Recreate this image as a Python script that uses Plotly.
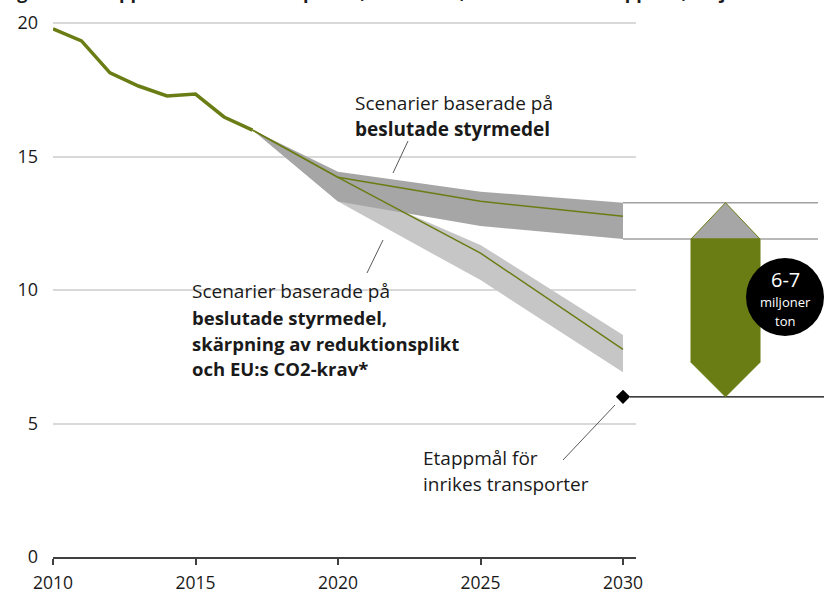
import plotly.graph_objects as go

# historic emissions, million tonnes
hist_years = [2010, 2011, 2012, 2013, 2014, 2015, 2016, 2017]
hist_values = [19.78, 19.33, 18.13, 17.64, 17.27, 17.34, 16.48, 15.99]

# scenarios
scen_years = [2017, 2020, 2025, 2030]
base_mid = [15.99, 14.22, 13.32, 12.76]
base_high = [15.99, 14.43, 13.68, 13.27]
base_low = [15.99, 13.31, 12.40, 11.91]
sharp_mid = [15.99, 14.22, 11.38, 7.78]
sharp_high = [15.99, 14.00, 11.69, 8.31]
sharp_low = [15.99, 13.31, 10.37, 6.92]

target_year = 2030
target_value = 6.0

x_ticks = [2010, 2015, 2020, 2025, 2030]
y_ticks = [0, 5, 10, 15, 20]

OLIVE = "#6a7d15"
DARK = "#a6a6a6"
LIGHT = "#c6c6c6"
FONT = "Open Sans"

W, H = 824, 595
L, R, T, B = 53, 188, 15, 38
plot_w, plot_h = W - L - R, H - T - B
x_range = [2010, 2010 + plot_w / 28.5]
y_range = [0, plot_h / 26.7]


def xp(px):
    return (px - L) / plot_w


def yd(py):
    return (H - B - py) / plot_h * y_range[1]


def year_to_paper(year):
    return (year - x_range[0]) / (x_range[1] - x_range[0])


fig = go.Figure()

fig.add_trace(go.Scatter(
    x=scen_years + scen_years[::-1], y=sharp_high + sharp_low[::-1],
    fill="toself", fillcolor=LIGHT, mode="lines", line=dict(width=0),
    hoverinfo="skip", showlegend=False))
fig.add_trace(go.Scatter(
    x=scen_years + scen_years[::-1], y=base_high + base_low[::-1],
    fill="toself", fillcolor=DARK, mode="lines", line=dict(width=0),
    hoverinfo="skip", showlegend=False))
fig.add_trace(go.Scatter(x=scen_years, y=base_mid, mode="lines",
                         line=dict(color=OLIVE, width=1.5), showlegend=False))
fig.add_trace(go.Scatter(x=scen_years, y=sharp_mid, mode="lines",
                         line=dict(color=OLIVE, width=1.5), showlegend=False))
fig.add_trace(go.Scatter(x=hist_years, y=hist_values, mode="lines",
                         line=dict(color=OLIVE, width=3.5), showlegend=False))
fig.add_trace(go.Scatter(x=[target_year], y=[target_value], mode="markers",
                         marker=dict(symbol="diamond", size=11, color="black"),
                         showlegend=False, cliponaxis=False))

shapes = []
x2030 = year_to_paper(2030)
for yv in (base_high[-1], base_low[-1]):
    shapes.append(dict(type="line", xref="paper", yref="y", x0=x2030, x1=xp(818),
                       y0=yv, y1=yv, line=dict(color="#a0a0a0", width=1.5)))
shapes.append(dict(type="line", xref="paper", yref="y", x0=xp(630), x1=xp(824),
                   y0=target_value, y1=target_value, line=dict(color="black", width=1.2)))

left, right, mid = xp(691), xp(760), xp(725.5)
tip = 34.5 / plot_h * y_range[1]
hi, lo = base_high[-1], base_low[-1]
shapes.append(dict(type="path", xref="paper", yref="y",
                   path=f"M{left},{lo} L{mid},{hi} L{right},{lo} Z",
                   fillcolor=DARK, line=dict(color=OLIVE, width=1)))
shapes.append(dict(type="path", xref="paper", yref="y",
                   path=(f"M{left},{lo} L{right},{lo} L{right},{target_value + tip} "
                         f"L{mid},{target_value} L{left},{target_value + tip} Z"),
                   fillcolor=OLIVE, line=dict(color=OLIVE, width=1)))
shapes.append(dict(type="circle", xref="paper", yref="y", xsizemode="pixel", ysizemode="pixel",
                   xanchor=xp(785), yanchor=yd(297), x0=-39, x1=39, y0=-39, y1=39,
                   fillcolor="black", line=dict(color="black", width=0)))

# leader lines
for (x0, y0, x1, y1) in [(393, 173, 408, 141), (367, 273, 383, 240), (563, 460, 615, 405)]:
    shapes.append(dict(type="line", xref="paper", yref="y", x0=xp(x0), x1=xp(x1),
                       y0=yd(y0), y1=yd(y1), line=dict(color="#595959", width=1)))

annotations = []


def label(text, px, py, size=19, color="#1a1a1a", anchor="left"):
    annotations.append(dict(text=text, xref="paper", yref="y", x=xp(px), y=yd(py),
                            xanchor=anchor, yanchor="middle", showarrow=False,
                            font=dict(family=FONT, size=size, color=color)))


label("Scenarier baserade på", 353, 103)
label("<b>beslutade styrmedel</b>", 353, 129)
label("Scenarier baserade på", 190, 291)
label("<b>beslutade styrmedel,</b>", 190, 317, size=18.5)
label("<b>skärpning av reduktionsplikt</b>", 190, 343, size=18.5)
label("<b>och EU:s CO2-krav*</b>", 190, 368, size=18.5)
label("Etappmål för", 421, 458)
label("inrikes transporter", 421, 484)
label("6-7", 785, 279, size=20, color="white", anchor="center")
label("miljoner", 785, 302, size=13, color="white", anchor="center")
label("ton", 785, 321, size=13, color="white", anchor="center")

annotations.append(dict(
    text="<b>Figur 2. Utsläpp från inrikes transporter, historiska, scenarier och etappmål, miljoner ton</b>",
    xref="paper", yref="paper", x=xp(0), y=1, yshift=9, xanchor="left", yanchor="bottom",
    showarrow=False, font=dict(family=FONT, size=18, color="#1a1a1a")))

fig.update_layout(
    width=W, height=H,
    margin=dict(l=L, r=R, t=T, b=B),
    plot_bgcolor="white", paper_bgcolor="white",
    shapes=shapes, annotations=annotations,
    xaxis=dict(range=x_range, tickvals=x_ticks, showgrid=False, zeroline=False,
               showline=True, linecolor="#404040", linewidth=2, automargin=False,
               ticks="outside", ticklen=6, tickwidth=1.5, tickcolor="#404040",
               ticklabelstandoff=3,
               tickfont=dict(family=FONT, size=17.5, color="#1a1a1a")),
    yaxis=dict(range=y_range, tickvals=y_ticks, showgrid=True, gridcolor="#d9d9d9",
               gridwidth=1.5, zeroline=False, showline=False, ticks="", automargin=False,
               ticklabelstandoff=14,
               tickfont=dict(family=FONT, size=18, color="#1a1a1a")),
)

fig.write_html("out.html", config={"displayModeBar": False},
               post_script="document.body.style.margin='0';document.body.style.overflow='hidden';")
